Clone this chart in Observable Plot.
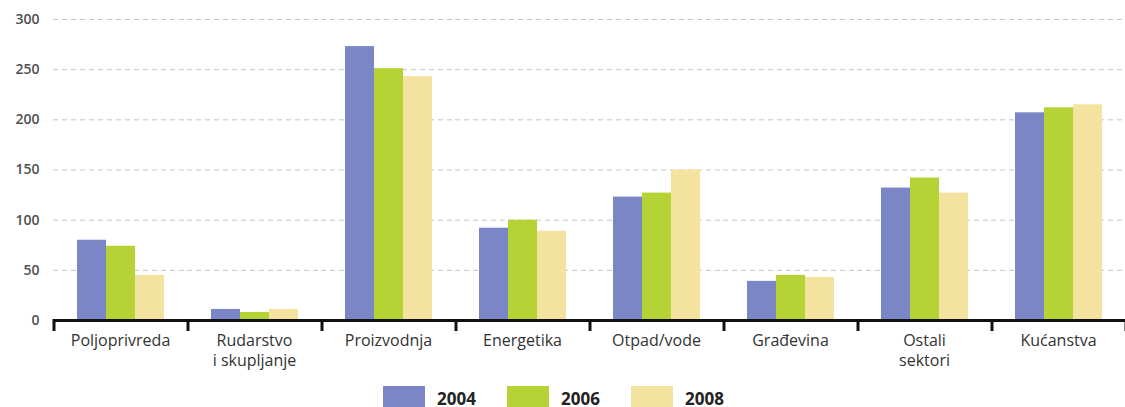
<!DOCTYPE html>
<html><head><meta charset="utf-8">
<script src="https://cdn.jsdelivr.net/npm/d3@7"></script>
<script src="https://cdn.jsdelivr.net/npm/@observablehq/plot@0.6"></script>
<style>
body{margin:0;background:#fff;font-family:"Open Sans",sans-serif;overflow:hidden}
#legend{display:flex;margin-left:383px;margin-top:6px;}
.item{width:124px;display:flex;align-items:flex-start}
.sw{width:42px;height:24px}
.lb{margin-left:12px;font-weight:700;font-size:17px;line-height:13px;margin-top:6px;color:#222}
</style></head><body><div id="chart"></div><div id="legend"></div>
<script>
const categories = ["Poljoprivreda","Rudarstvo\ni skupljanje","Proizvodnja","Energetika","Otpad/vode","Građevina","Ostali\nsektori","Kućanstva"];
const years = ["2004","2006","2008"];
const v2004 = [80, 11, 273, 92, 123, 39, 132, 207];
const v2006 = [74, 8, 251, 100, 127, 45, 142, 212];
const v2008 = [45, 11, 243, 89, 150, 43, 127, 215];
const yTicks = [0, 50, 100, 150, 200, 250, 300];
const colors = ["#7b86c6", "#b5d334", "#f3e39e"];

const series = [v2004, v2006, v2008];
const data = [];
categories.forEach((c, i) => years.forEach((y, j) => data.push({category: c, year: y, value: series[j][i]})));

const plot = Plot.plot({
  width: 1125,
  height: 380,
  marginLeft: 52,
  marginRight: 0,
  marginTop: 19,
  marginBottom: 60,
  style: {fontFamily: "'Open Sans', sans-serif", color: "#333", background: "#fff"},
  fx: {domain: categories, padding: 0, label: null},
  x: {domain: years, paddingInner: 0, paddingOuter: 0.74, axis: null},
  y: {domain: [0, 300], ticks: yTicks, label: null},
  color: {domain: years, range: colors},
  marks: [
    Plot.gridY(yTicks.slice(1), {stroke: "#c4c4c4", strokeOpacity: 1, strokeDasharray: "5,4"}),
    Plot.axisY(yTicks, {tickSize: 0, tickPadding: 14, fontSize: 14, fontWeight: 600, fill: "#505050"}),
    Plot.axisFx({tickSize: 0, tickPadding: 11, fontSize: 16, fill: "#333", lineHeight: 1.25, anchor: "bottom", label: null}),
    Plot.barY(data, {fx: "category", x: "year", y: "value", fill: "year"}),
    Plot.ruleY([0], {stroke: "#111", strokeWidth: 3})
  ]
});

document.getElementById("chart").appendChild(plot);

// category boundary ticks, placed through the fx and y scales
const fx = plot.scale("fx");
const ys = plot.scale("y");
const y0 = ys.apply(0);
const edges = categories.map(c => fx.apply(c));
edges.push(fx.apply(categories[categories.length - 1]) + fx.bandwidth);
const NS = "http://www.w3.org/2000/svg";
const g = document.createElementNS(NS, "g");
edges.forEach(x => {
  const l = document.createElementNS(NS, "line");
  l.setAttribute("x1", x + 1);
  l.setAttribute("x2", x + 1);
  l.setAttribute("y1", y0 - 1);
  l.setAttribute("y2", y0 + 11);
  l.setAttribute("stroke", "#111");
  l.setAttribute("stroke-width", "3");
  g.appendChild(l);
});
plot.appendChild(g);

const legend = d3.select("#legend");
years.forEach((y, i) => {
  const it = legend.append("div").attr("class", "item");
  it.append("div").attr("class", "sw").style("background", colors[i]);
  it.append("div").attr("class", "lb").text(y);
});
</script></body></html>
